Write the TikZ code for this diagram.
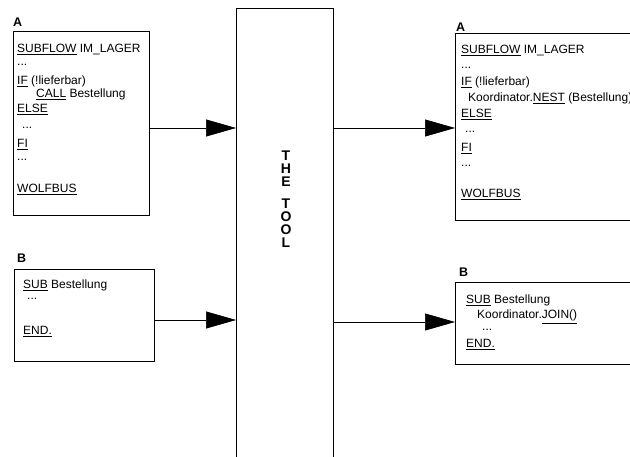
\documentclass[tikz,border=0pt]{standalone}
\usepackage{fontspec}
\setmainfont{Liberation Sans}
\usetikzlibrary{arrows.meta}

\tikzset{
  prog/.style={draw, thick, minimum width=#1, anchor=north west, inner sep=0pt},
  code/.style={anchor=base west, inner sep=0pt, font=\fontsize{12}{13}\selectfont},
  lbl/.style={anchor=base west, inner sep=0pt, font=\fontsize{12.5}{14}\selectfont\bfseries},
  flow/.style={semithick, -{Triangle[length=30pt,width=17pt]}}
}

\begin{document}
\begin{tikzpicture}[x=1pt,y=-1pt]
\useasboundingbox (0,0) rectangle (630,457);
\clip (0,0) rectangle (630,457);

% the tool
\node[draw, semithick, anchor=north west, minimum width=97pt, minimum height=470pt] (tool) at (236,8) {};
\node[align=center, font=\fontsize{14}{12.8}\selectfont\bfseries] (toolname) at (286,199) {T\\H\\E\\[10pt]T\\O\\O\\L};

% before
\node[prog=136pt, minimum height=184pt] (inA) at (13,31) {};
\node[lbl] (inAl) at (13,27) {A};
\node[code] at (17,53) {\underline{SUBFLOW} IM\_LAGER};
\node[code] at (17,66) {...};
\node[code] at (17,85) {\underline{IF} (!lieferbar)};
\node[code] at (36,98) {\underline{CALL} Bestellung};
\node[code] at (17,113) {\underline{ELSE}};
\node[code] at (22,129) {...};
\node[code] at (17,148) {\underline{FI}};
\node[code] at (17,161) {...};
\node[code] at (17,193) {\underline{WOLFBUS}};

\node[prog=140pt, minimum height=92pt] (inB) at (14,269) {};
\node[lbl] (inBl) at (17,263) {B};
\node[code] at (23,289) {\underline{SUB} Bestellung};
\node[code] at (27,300) {...};
\node[code] at (23,335) {\underline{END.}};

% after
\node[prog=190pt, minimum height=187pt] (outA) at (455,33) {};
\node[lbl] (outAl) at (456,32) {A};
\node[code] at (461,54) {\underline{SUBFLOW} IM\_LAGER};
\node[code] at (461,69) {...};
\node[code] at (461,86) {\underline{IF} (!lieferbar)};
\node[code] at (468,102) {Koordinator.\underline{NEST} (Bestellung)};
\node[code] at (461,117.5) {\underline{ELSE}};
\node[code] at (465,133) {...};
\node[code] at (461,152) {\underline{FI}};
\node[code] at (461,167) {...};
\node[code] at (461,198) {\underline{WOLFBUS}};

\node[prog=190pt, minimum height=82pt] (outB) at (455,282) {};
\node[lbl] (outBl) at (459,277) {B};
\node[code] at (466,304) {\underline{SUB} Bestellung};
\node[code] at (477,319) {Koordinator.\underline{JOIN()}};
\node[code] at (482,331) {...};
\node[code] at (466,347.5) {\underline{END.}};

% arrows
\coordinate (a1) at (149,128);
\coordinate (a2) at (154,320);
\coordinate (a3) at (333,128);
\coordinate (a4) at (333,322);
\draw[flow] (a1) -- (a1 -| tool.west);
\draw[flow] (a2) -- (a2 -| tool.west);
\draw[flow] (a3) -- (a3 -| outA.west);
\draw[flow] (a4) -- (a4 -| outB.west);

\end{tikzpicture}
\end{document}
